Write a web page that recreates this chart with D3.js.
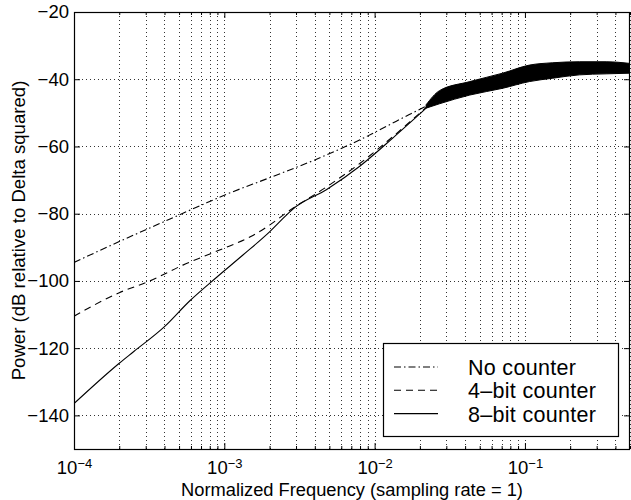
<!DOCTYPE html>
<html>
<head>
<meta charset="utf-8">
<script src="https://cdnjs.cloudflare.com/ajax/libs/d3/7.8.5/d3.min.js"></script>
<style>
  body { margin: 0; background: #fff; }
  svg { display: block; }
</style>
</head>
<body>
<div class="chart"></div>
<script>
var width = 631;
var height = 500;

// series values: [normalized frequency, dB]
var noCounter = [
  [1e-4, -94.5], [2e-4, -88.3], [4e-4, -82.3], [7e-4, -77.5], [1e-3, -74.5],
  [2e-3, -69.3], [4e-3, -64], [8e-3, -58], [1.2e-2, -54], [1.7e-2, -50.5],
  [2.2e-2, -48], [2.7e-2, -45.5], [4.3e-2, -42.7], [7e-2, -40.4], [0.107, -38.3],
  [0.153, -37.4], [0.23, -36.8], [0.35, -36.6], [0.5, -36.7]
];
var fourBit = [
  [1e-4, -110.5], [2e-4, -103.5], [3.2e-4, -100], [5.3e-4, -95.3], [9.3e-4, -90.8],
  [1.5e-3, -86.8], [2e-3, -83.4], [2.65e-3, -79.4], [4.8e-3, -72], [8e-3, -65],
  [1.32e-2, -57.1], [2e-2, -50.1], [2.6e-2, -45.7], [4.3e-2, -42.7], [7e-2, -40.4],
  [0.107, -38.3], [0.153, -37.4], [0.23, -36.8], [0.35, -36.6], [0.5, -36.7]
];
var eightBit = [
  [1e-4, -136.5], [2e-4, -124.5], [2.5e-4, -121], [4e-4, -113.6], [5.9e-4, -105.9],
  [8.9e-4, -98.9], [1.33e-3, -92.3], [2e-3, -85.4], [2.65e-3, -80], [2.85e-3, -78.7],
  [4.8e-3, -72.8], [8e-3, -65.8], [1.32e-2, -57.5], [2e-2, -50.3], [2.6e-2, -45.8],
  [4.3e-2, -42.7], [7e-2, -40.4], [0.107, -38.3], [0.153, -37.4], [0.23, -36.8],
  [0.35, -36.6], [0.5, -36.7]
];

// noisy high-frequency band where the three spectra overlap
var bandFreq  = [0.022, 0.027, 0.043, 0.071, 0.107, 0.153, 0.23, 0.347, 0.5];
var bandUpper = [-47.6, -43.4, -40.7, -38.2, -35.8, -35.1, -34.8, -34.8, -35.3];
var bandLower = [-48.6, -47.3, -44.7, -42.7, -40.7, -39.7, -38.7, -38.4, -38.2];

var yTicks = [-140, -120, -100, -80, -60, -40, -20];
var xDecades = [1e-4, 1e-3, 1e-2, 1e-1];
var xExponents = ["−4", "−3", "−2", "−1"];
var legendNames = ["No counter", "4–bit counter", "8–bit counter"];

var font = "'Liberation Sans', Arial, Helvetica, sans-serif";
var pLeft = 74, pRight = 630, pTop = 12, pBottom = 449;

var x = d3.scaleLog().domain([1e-4, 0.5]).range([pLeft, pRight]);
var y = d3.scaleLinear().domain([-150, -20]).range([pBottom, pTop]);

// minor positions 2..9 in each decade
var xMinor = [];
xDecades.forEach(function(d){
  for (var m = 2; m <= 9; m++) {
    if (m * d <= 0.5) xMinor.push(m * d);
  }
});

var svg = d3.select(".chart").append("svg")
  .attr("width", width).attr("height", height)
  .style("background", "#fff");

svg.append("defs").append("clipPath").attr("id", "plot")
  .append("rect").attr("x", pLeft).attr("y", pTop)
  .attr("width", pRight - pLeft).attr("height", pBottom - pTop);

// grid
var grid = svg.append("g").attr("stroke", "#333").attr("stroke-width", 1)
  .attr("stroke-dasharray", "1,3");
grid.selectAll(".gx").data(xDecades.slice(1).concat(xMinor)).enter().append("line")
  .attr("x1", d => Math.round(x(d)) + 0.5).attr("x2", d => Math.round(x(d)) + 0.5)
  .attr("y1", pTop).attr("y2", pBottom);
grid.selectAll(".gy").data(yTicks.slice(0, -1)).enter().append("line")
  .attr("x1", pLeft).attr("x2", pRight)
  .attr("y1", d => Math.round(y(d)) + 0.5).attr("y2", d => Math.round(y(d)) + 0.5);

var plot = svg.append("g").attr("clip-path", "url(#plot)");

var bandData = bandFreq.map(function(f, i){ return {f: f, hi: bandUpper[i], lo: bandLower[i]}; });
plot.append("path")
  .datum(bandData)
  .attr("fill", "#000")
  .attr("stroke", "#000")
  .attr("stroke-width", 1)
  .attr("d", d3.area()
    .x(d => x(d.f)).y0(d => y(d.lo)).y1(d => y(d.hi))
    .curve(d3.curveMonotoneX));

var line = d3.line().x(d => x(d[0])).y(d => y(d[1])).curve(d3.curveMonotoneX);
var series = [
  {name: legendNames[0], values: noCounter, dash: "7,3,1.5,3"},
  {name: legendNames[1], values: fourBit, dash: "7,5"},
  {name: legendNames[2], values: eightBit, dash: null}
];
plot.selectAll(".series").data(series).enter().append("path")
  .attr("class", "series")
  .attr("fill", "none")
  .attr("stroke", "#000")
  .attr("stroke-width", 1.1)
  .attr("stroke-dasharray", d => d.dash)
  .attr("d", d => line(d.values));

// box
svg.append("rect")
  .attr("x", pLeft + 0.5).attr("y", pTop + 0.5)
  .attr("width", pRight - pLeft - 1).attr("height", pBottom - pTop)
  .attr("fill", "none").attr("stroke", "#000").attr("stroke-width", 1.2);

// axes
function styleAxis(g) {
  g.select(".domain").remove();
  g.attr("font-family", font).attr("font-size", 18.5);
  g.selectAll("text").attr("fill", "#000");
  g.selectAll("line").attr("stroke", "#000");
}

svg.append("g").attr("transform", "translate(" + pLeft + ",0)")
  .call(d3.axisLeft(y).tickValues(yTicks).tickSize(-6).tickPadding(5))
  .call(styleAxis);
svg.append("g").attr("transform", "translate(" + pRight + ",0)")
  .call(d3.axisRight(y).tickValues(yTicks).tickSize(-6).tickFormat(""))
  .call(styleAxis);

var xAxis = svg.append("g").attr("transform", "translate(0," + pBottom + ")")
  .call(d3.axisBottom(x).tickValues(xDecades).tickSize(-6).tickPadding(12))
  .call(styleAxis);
xAxis.selectAll(".tick text").each(function(d, i){
  var t = d3.select(this).text(null);
  t.append("tspan").text("10");
  t.append("tspan").attr("dy", "-0.5em").attr("font-size", 13).text(xExponents[i]);
});
svg.append("g").attr("transform", "translate(0," + pBottom + ")")
  .call(d3.axisBottom(x).tickValues(xMinor).tickSize(-3).tickFormat(""))
  .call(styleAxis);
svg.append("g").attr("transform", "translate(0," + pTop + ")")
  .call(d3.axisTop(x).tickValues(xDecades).tickSize(-6).tickFormat(""))
  .call(styleAxis);
svg.append("g").attr("transform", "translate(0," + pTop + ")")
  .call(d3.axisTop(x).tickValues(xMinor).tickSize(-3).tickFormat(""))
  .call(styleAxis);

// axis titles
svg.append("text")
  .attr("x", (pLeft + pRight) / 2).attr("y", 496)
  .attr("text-anchor", "middle")
  .attr("font-family", font).attr("font-size", 18.3)
  .text("Normalized Frequency (sampling rate = 1)");
svg.append("text")
  .attr("transform", "translate(25," + (pTop + pBottom) / 2 + ") rotate(-90)")
  .attr("text-anchor", "middle")
  .attr("font-family", font).attr("font-size", 18.6)
  .text("Power (dB relative to Delta squared)");

// legend
var legend = svg.append("g");
legend.append("rect")
  .attr("x", 383.5).attr("y", 343.5).attr("width", 235).attr("height", 93)
  .attr("fill", "#fff").attr("stroke", "#000").attr("stroke-width", 1.2);
var rows = legend.selectAll(".row").data(series).enter().append("g")
  .attr("transform", (d, i) => "translate(0," + (375 + i * 23.3) + ")");
rows.append("line")
  .attr("x1", 394).attr("x2", 438).attr("y1", -8).attr("y2", -8)
  .attr("stroke", "#000").attr("stroke-width", 1.1)
  .attr("stroke-dasharray", d => d.dash);
rows.append("text")
  .attr("x", 468)
  .attr("font-family", font).attr("font-size", 21.5)
  .attr("letter-spacing", 0.3)
  .text(d => d.name);
</script>
</body>
</html>
